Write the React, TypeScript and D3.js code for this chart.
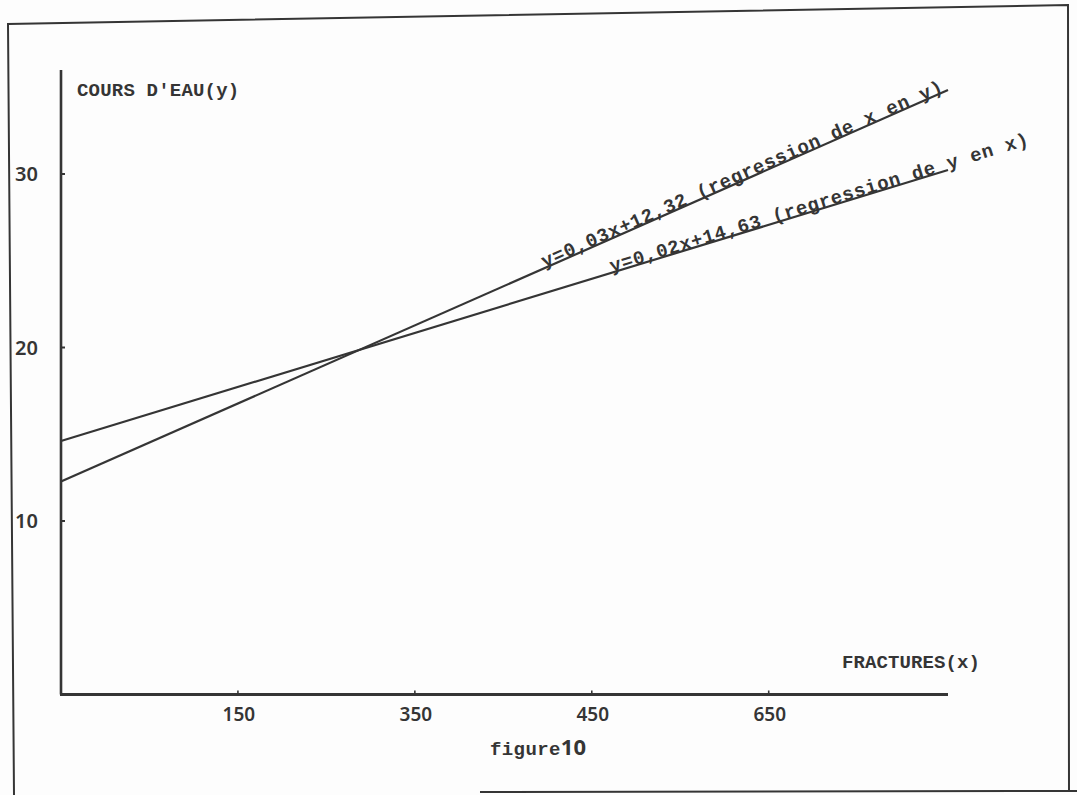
import React from "react";
import * as d3 from "d3";

// ---- data ----
const xDomain = [0, 752];
const yDomain = [0, 36];
const lineX = [0, 752];
const lineXonY = [12.27, 34.84]; // y=0,03x+12,32 (regression de x en y)
const lineYonX = [14.61, 30.23]; // y=0,02x+14,63 (regression de y en x)
const labelXonY = "y=0,03x+12,32 (regression de x en y)";
const labelYonX = "y=0,02x+14,63 (regression de y en x)";
const labelStartX = [410, 467];
const xTickValues = [150, 300, 450, 600];
const xTickLabels = ["150", "350", "450", "650"];
const yTickValues = [10, 20, 30];
const yTickLabels = ["10", "20", "30"];

const W = 1077;
const H = 795;
const ink = "#353535";
const mono = "'Liberation Mono', 'DejaVu Sans Mono', monospace";
const sans = "'Noto Sans', 'Open Sans', sans-serif";

export default function App() {
  const x = d3.scaleLinear().domain(xDomain).range([61, 948]);
  const y = d3.scaleLinear().domain(yDomain).range([694.5, 69.9]);
  const line = d3
    .line<[number, number]>()
    .x((d) => x(d[0]))
    .y((d) => y(d[1]));

  const series = [
    { ys: lineXonY, label: labelXonY, start: labelStartX[0] },
    { ys: lineYonX, label: labelYonX, start: labelStartX[1] },
  ];

  return (
    <svg
      width={W}
      height={H}
      style={{ position: "absolute", left: 0, top: 0, background: "#fff" }}
    >
      <rect x={0} y={0} width={W} height={H} fill="#fdfdfd" />
      {/* outer frame */}
      <path
        d="M14,795 L8,24 L1068,5 L1069,792 M480,792 L1077,791"
        fill="none"
        stroke={ink}
        strokeWidth={2}
      />
      {/* y axis */}
      <line x1={x(0)} x2={x(0)} y1={y(yDomain[0])} y2={y(yDomain[1])} stroke={ink} strokeWidth={2.6} />
      {/* x axis */}
      <line x1={x(0) - 1} x2={x(xDomain[1])} y1={y(0)} y2={y(0)} stroke={ink} strokeWidth={3.2} />
      {yTickValues.map((v, i) => (
        <g key={"yt" + i}>
          <line x1={x(0)} x2={x(0) + 4} y1={y(v)} y2={y(v)} stroke={ink} strokeWidth={2} />
          <text
            x={15}
            y={y(v)}
            dy="0.36em"
            fontFamily={sans}
            fontSize={20}
            fontWeight={600}
            fill={ink}
          >
            {yTickLabels[i]}
          </text>
        </g>
      ))}
      {xTickValues.map((v, i) => (
        <g key={"xt" + i}>
          <line x1={x(v)} x2={x(v)} y1={y(0)} y2={y(0) - 4} stroke={ink} strokeWidth={1.6} />
          <text
            x={x(v) + 1}
            y={721}
            textAnchor="middle"
            fontFamily={sans}
            fontSize={19}
            fontWeight={600}
            fill={ink}
          >
            {xTickLabels[i]}
          </text>
        </g>
      ))}
      {/* regression lines */}
      {series.map((s, i) => {
        const pts: [number, number][] = lineX.map((xv, j) => [xv, s.ys[j]]);
        const slope = (s.ys[1] - s.ys[0]) / (lineX[1] - lineX[0]);
        const yv = s.ys[0] + slope * (s.start - lineX[0]);
        const ang =
          (Math.atan2(y(s.ys[1]) - y(s.ys[0]), x(lineX[1]) - x(lineX[0])) * 180) / Math.PI;
        return (
          <g key={"s" + i}>
            <path d={line(pts) || ""} fill="none" stroke={ink} strokeWidth={2.2} />
            <text
              transform={`translate(${x(s.start)},${y(yv)}) rotate(${ang})`}
              dy={-0.5}
              fontFamily={mono}
              fontSize={19}
              fontWeight={700}
              letterSpacing={0.75}
              fill={ink}
            >
              {s.label}
            </text>
          </g>
        );
      })}
      {/* axis titles */}
      <text x={77} y={96} fontFamily={mono} fontSize={19} fontWeight={700} letterSpacing={0.2} fill={ink}>
        COURS D'EAU(y)
      </text>
      <text x={842} y={668} fontFamily={mono} fontSize={19} fontWeight={700} letterSpacing={0.1} fill={ink}>
        FRACTURES(x)
      </text>
      <text x={490} y={755} fill={ink}>
        <tspan fontFamily={mono} fontSize={19} fontWeight={700} letterSpacing={0.4}>
          figure
        </tspan>
        <tspan fontFamily={sans} fontSize={22} fontWeight={700}>
          10
        </tspan>
      </text>
    </svg>
  );
}
